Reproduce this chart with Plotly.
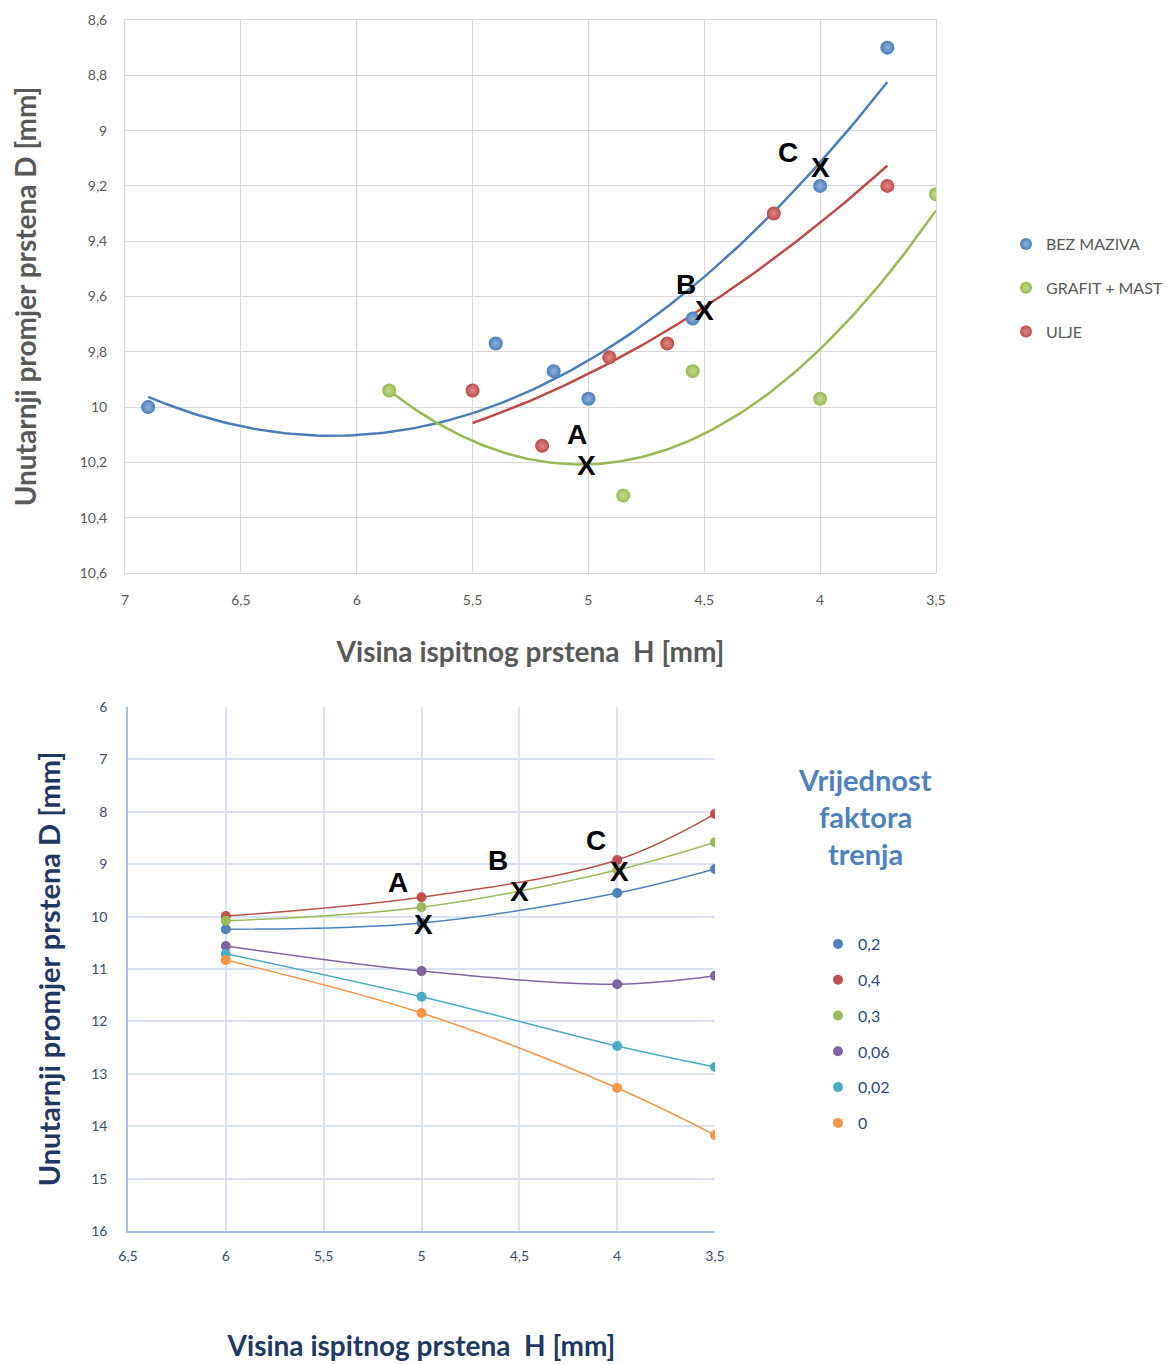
import numpy as np
import plotly.graph_objects as go

# page is rendered with an 8px body margin, so the figure is offset by 8px
OFF = 8
W, H = 1174 - OFF, 1364 - OFF


def fx(p):
    return (p - OFF) / W


def fy(p):
    return 1 - (p - OFF) / H


# ---------------- Top chart data ----------------
top_series = ["BEZ MAZIVA", "GRAFIT + MAST", "ULJE"]
bez_x = [6.9, 5.4, 5.15, 5.0, 4.55, 4.0, 3.71]
bez_y = [10.0, 9.77, 9.87, 9.97, 9.68, 9.2, 8.7]
grafit_x = [5.86, 4.85, 4.55, 4.0, 3.5]
grafit_y = [9.94, 10.32, 9.87, 9.97, 9.23]
ulje_x = [5.5, 5.2, 4.91, 4.66, 4.2, 3.71]
ulje_y = [9.94, 10.14, 9.82, 9.77, 9.3, 9.2]
top_colors = ["#4a7ebb", "#98b954", "#be4b48"]
top_light = ["#8fb3e0", "#c4de8e", "#e08a87"]

top_labels = ["A", "B", "C"]
top_label_x = [5.05, 4.58, 4.14]
top_label_y = [10.10, 9.555, 9.08]
top_mark_x = [5.01, 4.5, 4.0]
top_mark_y = [10.21, 9.65, 9.135]

# ---------------- Bottom chart data ----------------
bot_x = [6, 5, 4, 3.5]
bot_names = ["0,2", "0,4", "0,3", "0,06", "0,02", "0"]
bot_values = {
    "0,2": [10.24, 10.12, 9.55, 9.09],
    "0,4": [9.99, 9.63, 8.92, 8.04],
    "0,3": [10.08, 9.82, 9.11, 8.58],
    "0,06": [10.56, 11.04, 11.29, 11.13],
    "0,02": [10.71, 11.53, 12.47, 12.87],
    "0": [10.83, 11.84, 13.27, 14.17],
}
bot_colors = ["#4f81bd", "#c0504d", "#9bbb59", "#8064a2", "#4bacc6", "#f79646"]

bot_labels = ["A", "B", "C"]
bot_label_x = [5.12, 4.61, 4.11]
bot_label_y = [9.34, 8.92, 8.54]
bot_mark_x = [4.99, 4.5, 3.99]
bot_mark_y = [10.16, 9.53, 9.13]

legend_title_lines = ["Vrijednost", "faktora", "trenja"]

fig = go.Figure()

# top scatter + quadratic trendlines
top_data = [(bez_x, bez_y), (grafit_x, grafit_y), (ulje_x, ulje_y)]
for name, (xs, ys), col in zip(top_series, top_data, top_colors):
    coef = np.polyfit(xs, ys, 2)
    tx = np.linspace(min(xs), max(xs), 120)
    ty = np.polyval(coef, tx)
    fig.add_trace(go.Scatter(x=tx, y=ty, mode="lines", line=dict(color=col, width=2.5),
                             showlegend=False, hoverinfo="skip", xaxis="x", yaxis="y"))
for name, (xs, ys), col, lc in zip(top_series, top_data, top_colors, top_light):
    fig.add_trace(go.Scatter(x=xs, y=ys, mode="markers", name=name,
                             marker=dict(size=14, color=col,
                                         gradient=dict(type="radial", color=lc)),
                             legend="legend", legendgroup=name, xaxis="x", yaxis="y"))

# bottom lines (smoothed) + markers
for name, col in zip(bot_names, bot_colors):
    fig.add_trace(go.Scatter(x=bot_x, y=bot_values[name], mode="lines",
                             line=dict(color=col, width=1.5, shape="spline"),
                             showlegend=False, hoverinfo="skip", xaxis="x2", yaxis="y2"))
for name, col in zip(bot_names, bot_colors):
    fig.add_trace(go.Scatter(x=bot_x, y=bot_values[name], mode="markers", name=name,
                             marker=dict(size=10, color=col),
                             legend="legend2", legendgroup="b" + name, xaxis="x2", yaxis="y2"))

lab_font = dict(family="Liberation Sans", size=28, color="black", weight="bold")
ann = []
for t, x, y in zip(top_labels, top_label_x, top_label_y):
    ann.append(dict(x=x, y=y, xref="x", yref="y", text=t, showarrow=False, font=lab_font))
for x, y in zip(top_mark_x, top_mark_y):
    ann.append(dict(x=x, y=y, xref="x", yref="y", text="X", showarrow=False, font=lab_font))
for t, x, y in zip(bot_labels, bot_label_x, bot_label_y):
    ann.append(dict(x=x, y=y, xref="x2", yref="y2", text=t, showarrow=False, font=lab_font))
for x, y in zip(bot_mark_x, bot_mark_y):
    ann.append(dict(x=x, y=y, xref="x2", yref="y2", text="X", showarrow=False, font=lab_font))
for line, py in zip(legend_title_lines, [779, 817, 853]):
    ann.append(dict(x=fx(865), y=fy(py), xref="paper", yref="paper", showarrow=False,
                    xanchor="center", yanchor="middle", text=line,
                    font=dict(family="Lato", size=29, color="#4f81bd", weight="bold")))

gray = "#595959"
grid_top = "#d9d9d9"
navy = "#1f3864"
blue_tick = "#3b4e6b"
grid_bot = "#dae3f3"

fig.update_layout(
    width=W, height=H,
    margin=dict(l=0, r=0, t=0, b=0),
    paper_bgcolor="white", plot_bgcolor="white",
    separators=",.",
    showlegend=True,
    font=dict(family="Lato", color=gray),
    xaxis=dict(domain=[fx(125), fx(936)], range=[7, 3.5], dtick=0.5, tick0=3.5,
               showgrid=True, gridcolor=grid_top, gridwidth=1, zeroline=False,
               showline=True, mirror=True, linecolor=grid_top, linewidth=1,
               ticks="", ticklabelstandoff=14, tickfont=dict(size=14, color=gray),
               title=dict(text="<b>Visina ispitnog prstena  H [mm]</b>", standoff=35,
                          font=dict(size=28, color=gray)),
               automargin=False, anchor="y"),
    yaxis=dict(domain=[fy(573), fy(20)], range=[10.6, 8.6], dtick=0.2, tick0=8.6,
               showgrid=True, gridcolor=grid_top, gridwidth=1, zeroline=False,
               showline=True, mirror=True, linecolor=grid_top, linewidth=1,
               ticks="", ticklabelstandoff=14, tickfont=dict(size=14, color=gray),
               title=dict(text="<b>Unutarnji promjer prstena D [mm]</b>", standoff=36,
                          font=dict(size=28, color=gray)),
               automargin=False, anchor="x"),
    xaxis2=dict(domain=[fx(128), fx(715)], range=[6.5, 3.5], dtick=0.5, tick0=3.5,
                showgrid=True, gridcolor=grid_bot, gridwidth=1.5, zeroline=False,
                showline=True, linecolor="#a9c1e6", linewidth=1.5,
                ticks="", ticklabelstandoff=11, tickfont=dict(size=14, color=blue_tick),
                title=dict(text="<b>Visina ispitnog prstena  H [mm]</b>", standoff=74,
                           font=dict(size=28, color=navy)),
                automargin=False, anchor="y2"),
    yaxis2=dict(domain=[fy(1231), fy(707)], range=[16, 6], dtick=1, tick0=6,
                showgrid=True, gridcolor=grid_bot, gridwidth=1.5, zeroline=False,
                showline=True, linecolor="#a9c1e6", linewidth=1.5,
                ticks="", ticklabelstandoff=16, tickfont=dict(size=14, color=blue_tick),
                title=dict(text="<b>Unutarnji promjer prstena D [mm]</b>", standoff=22,
                           font=dict(size=29, color=navy)),
                automargin=False, anchor="x2"),
    legend=dict(x=fx(1006), y=fy(227), xanchor="left", yanchor="top",
                font=dict(size=16, color=gray), tracegroupgap=20,
                bgcolor="rgba(0,0,0,0)", itemsizing="constant"),
    legend2=dict(x=fx(818), y=fy(927), xanchor="left", yanchor="top",
                 font=dict(size=16, color="#2e4a7a"), tracegroupgap=12,
                 bgcolor="rgba(0,0,0,0)", itemwidth=30),
    annotations=ann,
)

fig.write_html("out.html")
